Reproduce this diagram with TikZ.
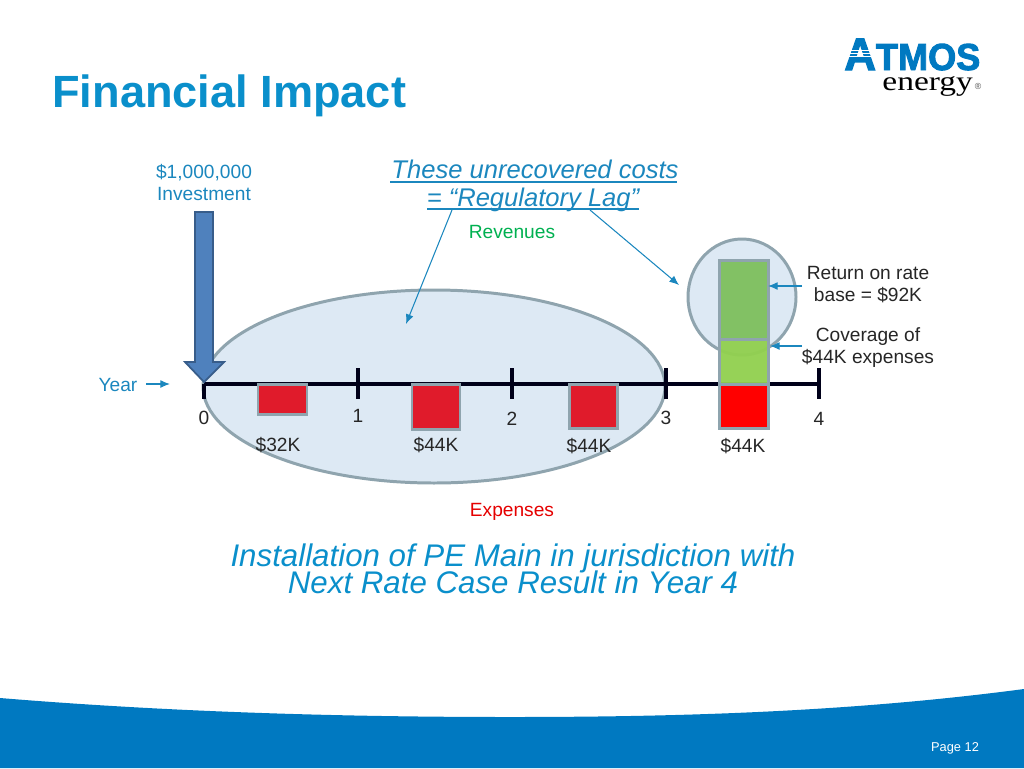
\documentclass[tikz,border=0pt]{standalone}
\usepackage{tikz}
\usepackage{xcolor}
\usepackage{fontspec}
\usetikzlibrary{arrows.meta}
\setmainfont{Liberation Sans}
\newfontfamily\logoserif{Liberation Serif}
\newfontfamily\logoheavy[FakeBold=2.5]{Liberation Sans Bold}
\definecolor{titleblue}{HTML}{0A8FCB}
\definecolor{bandblue}{HTML}{0079C1}
\definecolor{lineblue}{HTML}{1B87BE}
\definecolor{ringgray}{HTML}{8FA4AE}
\definecolor{ringfill}{HTML}{DDE9F4}
\definecolor{barred}{HTML}{E01B2B}
\definecolor{topgreen}{HTML}{82C164}
\definecolor{lowgreen}{HTML}{92D050}
\definecolor{revgreen}{HTML}{00B050}
\definecolor{investfill}{HTML}{4F81BD}
\definecolor{investline}{HTML}{385D8A}
\tikzset{
  lbl/.style={font=\fontsize{10.9}{13}\selectfont,text=black!85,align=center,inner sep=0pt},
  bluelbl/.style={lbl,text=lineblue},
  lagtext/.style={font=\itshape\fontsize{14.55}{15.3}\selectfont,text=lineblue,anchor=base,inner sep=0pt},
  captext/.style={font=\itshape\fontsize{17.8}{20}\selectfont,text=titleblue,anchor=base,inner sep=0pt},
  lagline/.style={draw=lineblue,line width=0.6pt,-{Latex[length=5.5pt,width=4.5pt]}},
  lagrule/.style={draw=lineblue,line width=0.8pt},
  ring/.style={draw=ringgray,line width=1.7pt,fill=ringfill},
  expbox/.style={draw=ringgray,line width=1.7pt,fill=barred},
  yearline/.style={line width=2.3pt,draw=black!90!blue}
}
\begin{document}
\begin{tikzpicture}[x=0.02cm,y=-0.02cm]
\useasboundingbox (0,0) rectangle (1024,768);

\fill[bandblue] (0,698) .. controls (170,712) and (340,717) .. (510,717) .. controls (680,717) and (850,712) .. (1024,689) -- (1024,768) -- (0,768) -- cycle;
\node[text=white,inner sep=0pt,font=\fontsize{7.3}{9}\selectfont] (pagenum) at (955,748) {Page 12};

\node[anchor=base west,inner sep=0pt,text=titleblue,font=\bfseries\fontsize{25.7}{30}\selectfont] (title) at (52,107) {Financial Impact};

\node[anchor=base west,inner sep=0pt,text=bandblue,xscale=0.96,font=\logoheavy\fontsize{21.4}{24}\selectfont] (logoname) at (844,70) {{\fontsize{26}{26}\selectfont A}TMOS};
\foreach \ypos in {50,53,56}
  \draw[white,line width=0.5pt] (846,\ypos) -- (872,\ypos);
\node[anchor=base west,inner sep=0pt,xscale=1.23,font=\logoserif\fontsize{15.5}{17}\selectfont] (logoenergy) at (882,90) {energy};
\node[inner sep=0pt,font=\fontsize{5}{6}\selectfont,text=black!70] (logomark) at (978,86) {\textregistered};

\draw[ring] (434,386.5) ellipse (231 and 96.5);
\draw[ring] (742,297) ellipse (54 and 58);

\draw[yearline] (204,384) -- (819,384);
\foreach \xpos in {358,512,666,819}
  \draw[yearline] (\xpos,368) -- (\xpos,399);
\draw[yearline] (204,384) -- (204,399);

\draw[expbox] (258,384) rectangle (307,414);
\draw[expbox] (412,384) rectangle (460,429);
\draw[expbox] (569,384) rectangle (617,428);
\draw[expbox,fill=red] (719,384) rectangle (768,428);
\draw[expbox,fill=lowgreen,fill opacity=0.96] (719,339) rectangle (768,384);
\draw[expbox,fill=topgreen] (719,260) rectangle (768,339);

\draw[fill=investfill,draw=investline,line width=1pt] (195,212) -- (213,212) -- (213,362) -- (224,362) -- (204,382) -- (185,362) -- (195,362) -- cycle;

\node[bluelbl] (invest) at (204,182.5) {\$1,000,000\\[-0.5pt]Investment};
\node[bluelbl] (yearlbl) at (118,385) {Year};
\coordinate (yearfrom) at (146,384);
\coordinate (yearto) at (170,384);
\draw[lagline] (yearfrom) -- (yearto);

\node[lagtext] (lag1) at (535,178) {These unrecovered costs};
\node[lagtext] (lag2) at (533,206) {= “Regulatory Lag”};
\coordinate (rule1a) at (390,182);
\coordinate (rule1b) at (677,182);
\coordinate (rule2a) at (427,209);
\coordinate (rule2b) at (639,209);
\draw[lagrule] (rule1a) -- (rule1b);
\draw[lagrule] (rule2a) -- (rule2b);
\coordinate (lagleft) at (452,210);
\coordinate (lagright) at (590,210);
\coordinate (lagbig) at (406,324);
\coordinate (lagsmall) at (679,285);
\draw[lagline] (lagleft) -- (lagbig);
\draw[lagline] (lagright) -- (lagsmall);

\node[lbl,text=revgreen] (revenues) at (512,232) {Revenues};
\node[lbl,text=red!90!black] (expenses) at (512,512) {Expenses};

\node[lbl] (retlbl) at (868,284.5) {Return on rate\\[-0.5pt]base = \$92K};
\node[lbl] (covlbl) at (868,347.5) {Coverage of\\[-0.5pt]\$44K expenses};
\coordinate (retfrom) at (802,286);
\coordinate (retto) at (768,286);
\coordinate (covfrom) at (802,346);
\coordinate (covto) at (770,346);
\draw[lagline] (retfrom) -- (retto);
\draw[lagline] (covfrom) -- (covto);

\node[lbl] (tick0) at (204,418) {0};
\node[lbl] (tick1) at (358,416) {1};
\node[lbl] (tick2) at (512,419) {2};
\node[lbl] (tick3) at (666,418) {3};
\node[lbl] (tick4) at (819,419) {4};

\node[lbl] (cost1) at (278,445) {\$32K};
\node[lbl] (cost2) at (436,445) {\$44K};
\node[lbl] (cost3) at (589,446) {\$44K};
\node[lbl] (cost4) at (743,446) {\$44K};

\node[captext] (caption1) at (513,566) {Installation of PE Main in jurisdiction with};
\node[captext] (caption2) at (513,593) {Next Rate Case Result in Year 4};
\end{tikzpicture}
\end{document}
